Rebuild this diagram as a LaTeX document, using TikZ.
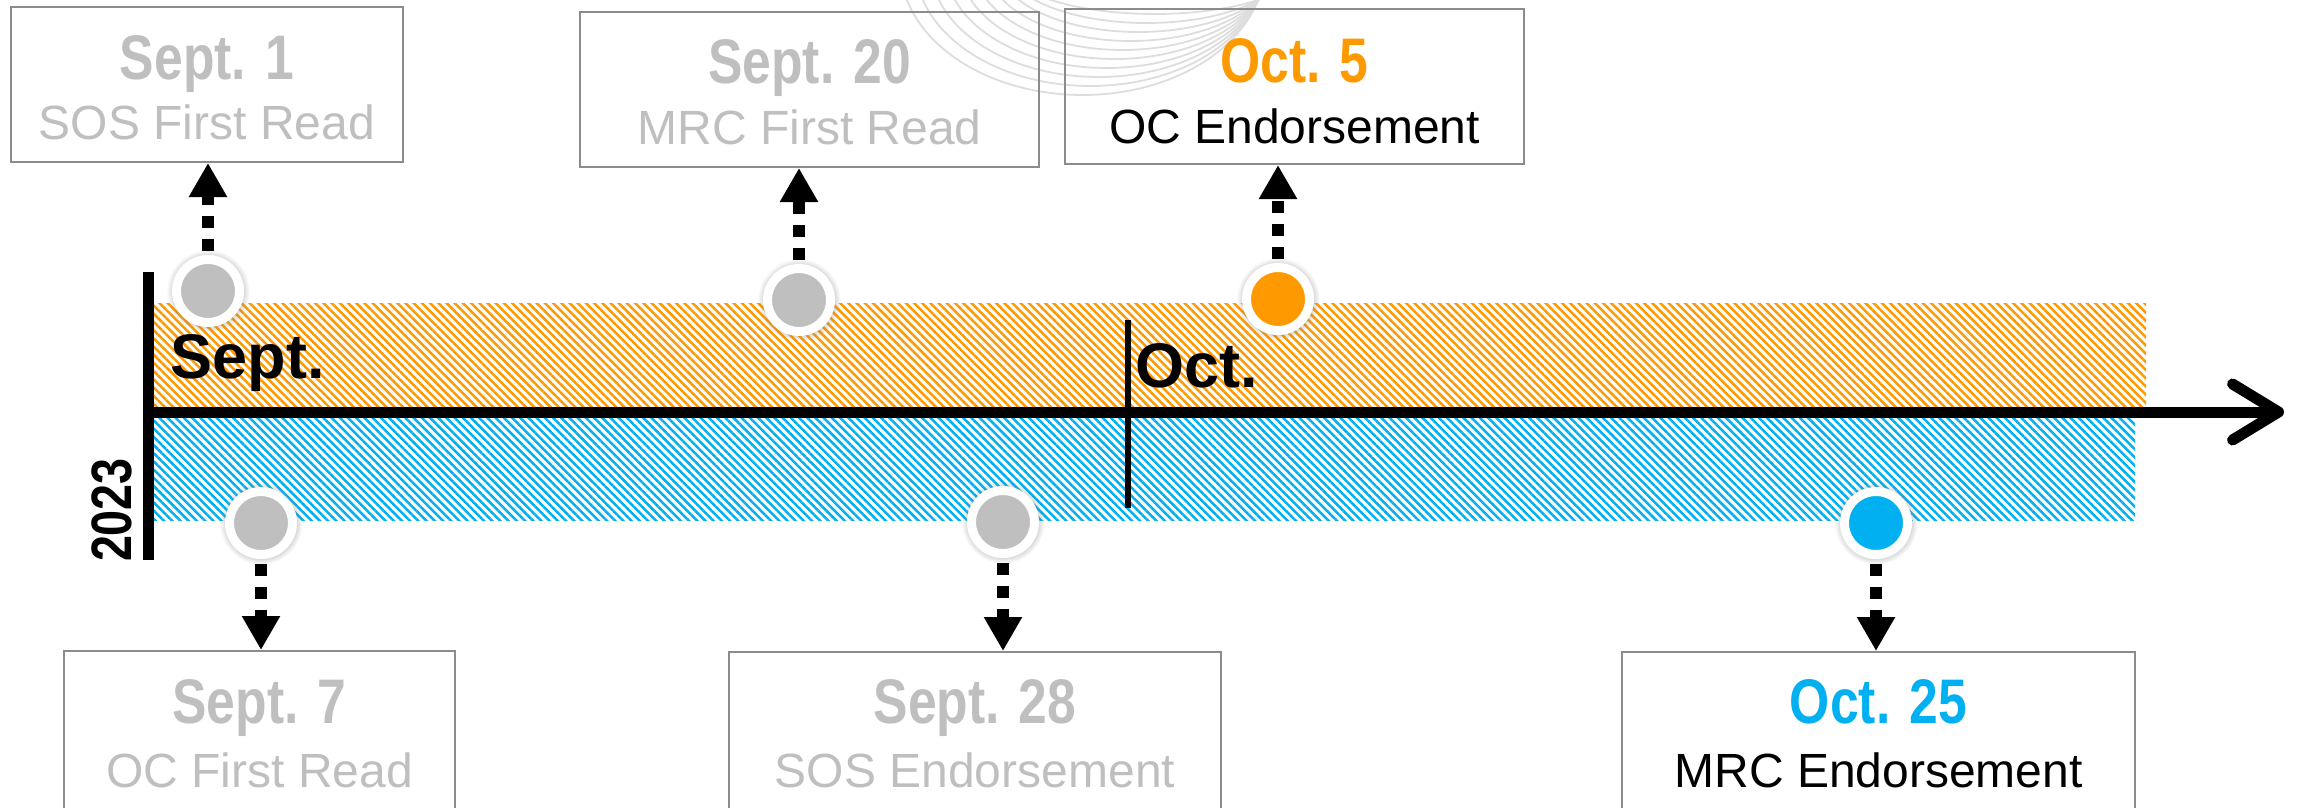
\documentclass[tikz,border=0pt]{standalone}
\usepackage{fontspec}
\setmainfont{Liberation Sans}
\newfontfamily\datefont{Liberation Sans}[FakeStretch=0.82]
\usetikzlibrary{arrows.meta,patterns.meta,shadows}
\definecolor{cOrange}{HTML}{FF9900}
\definecolor{cBlue}{HTML}{00B0F0}
\definecolor{cGray}{HTML}{BFBFBF}
\definecolor{cBorder}{HTML}{8C8C8C}
\definecolor{cArc}{HTML}{DDDDDD}
\begin{document}
\begin{tikzpicture}[x=1pt,y=-1pt,
  evbox/.style={draw=cBorder, line width=2pt, inner sep=0pt},
  datet/.style={anchor=base, inner sep=0pt, font=\datefont\bfseries\fontsize{63}{70}\selectfont},
  desct/.style={anchor=base, inner sep=0pt, font=\fontsize{48}{54}\selectfont},
  monthlbl/.style={anchor=base west, inner sep=0pt, font=\bfseries\fontsize{63}{70}\selectfont},
  dot/.style={circle, draw=white, line width=9pt, minimum size=63pt, inner sep=0pt, outer sep=9pt,
    circular drop shadow={shadow xshift=0pt, shadow yshift=0pt, shadow scale=1.32, opacity=0.3}},
  dasharrow/.style={line width=12pt, dash pattern=on 12pt off 11pt, -{Triangle[length=34pt,width=36pt]}},
  arcline/.style={draw=cArc, line width=1.8pt},
  hatch/.style={pattern={Lines[angle=-45,distance=5.8pt,line width=2.5pt]}}
]
\useasboundingbox (0,0) rectangle (2308,808);

% faint background arcs
\begin{scope}
\clip (0,0) rectangle (2308,808);
\foreach \i in {0,...,9}{
  \pgfmathsetmacro{\L}{907+16*\i}
  \pgfmathsetmacro{\D}{95-9*\i}
  \pgfmathsetmacro{\ry}{\D+35}
  \pgfmathsetmacro{\h}{(1258-\L)/2}
  \pgfmathsetmacro{\rx}{\h/sqrt(1-(35/\ry)^2)}
  \pgfmathsetmacro{\cx}{(\L+1258)/2}
  \draw[arcline] (\cx,-35) circle[x radius=\rx pt, y radius=\ry pt];
}
\end{scope}

% hatched bands
\fill[hatch, pattern color=cOrange] (154,303) rectangle (2146,412);
\fill[hatch, pattern color=cBlue] (154,412) rectangle (2135,520);

% axis
\coordinate (vT) at (148.5,272);
\coordinate (vB) at (148.5,560);
\coordinate (axL) at (143,412);
\coordinate (axR) at (2284,412);
\coordinate (oT) at (1128,320);
\coordinate (oB) at (1128,508);
\draw[line width=11pt] (vT) -- (vB);
\draw[line width=11pt, -{Straight Barb[length=46pt,width=56pt,round]}] (axL) -- (axR);
\draw[line width=6pt] (oT) -- (oB);

\node[monthlbl] (lsept) at (170.5,378) {Sept.};
\node[monthlbl] (loct) at (1135.5,387) {Oct.};
\node[rotate=90, inner sep=0pt, font=\datefont\bfseries\fontsize{57}{60}\selectfont] (yr) at (112,510) {2023};

% event dots
\node[dot, fill=cGray] (c1) at (208,291) {};
\node[dot, fill=cGray] (c2) at (799,300) {};
\node[dot, fill=cOrange] (c3) at (1278,299) {};
\node[dot, fill=cGray] (c4) at (261,523) {};
\node[dot, fill=cGray] (c5) at (1003,522) {};
\node[dot, fill=cBlue] (c6) at (1876,523) {};

% boxes
\node[evbox, minimum width=392pt, minimum height=155pt] (b1) at (207,84.5) {};
\node[evbox, minimum width=459pt, minimum height=155pt] (b2) at (809.5,89.5) {};
\node[evbox, minimum width=459pt, minimum height=155pt] (b3) at (1294.5,86.5) {};
\begin{scope}
\clip (0,0) rectangle (2308,808);
\node[evbox, minimum width=391pt, minimum height=170pt] (b4) at (259.5,736) {};
\node[evbox, minimum width=492pt, minimum height=170pt] (b5) at (975,737) {};
\node[evbox, minimum width=513pt, minimum height=170pt] (b6) at (1878.5,737) {};
\end{scope}

% texts
\node[datet, text=cGray] (t1d) at (207,79) {Sept. 1};
\node[desct, text=cGray] (t1t) at (207,139) {SOS First Read};
\node[datet, text=cGray] (t2d) at (809.5,84) {Sept. 20};
\node[desct, text=cGray] (t2t) at (809.5,144) {MRC First Read};
\node[datet, text=cOrange] (t3d) at (1294.5,82) {Oct. 5};
\node[desct, text=black] (t3t) at (1294.5,143) {OC Endorsement};
\node[datet, text=cGray] (t4d) at (259.5,723) {Sept. 7};
\node[desct, text=cGray] (t4t) at (259.5,787) {OC First Read};
\node[datet, text=cGray] (t5d) at (975,723) {Sept. 28};
\node[desct, text=cGray] (t5t) at (975,787) {SOS Endorsement};
\node[datet, text=cBlue] (t6d) at (1878.5,723) {Oct. 25};
\node[desct, text=black] (t6t) at (1878.5,787) {MRC Endorsement};

% connectors
\draw[dasharrow] (c1.north) -- (c1 |- b1.south);
\draw[dasharrow] (c2.north) -- (c2 |- b2.south);
\draw[dasharrow] (c3.north) -- (c3 |- b3.south);
\draw[dasharrow] (c4.south) -- (c4 |- b4.north);
\draw[dasharrow] (c5.south) -- (c5 |- b5.north);
\draw[dasharrow] (c6.south) -- (c6 |- b6.north);
\end{tikzpicture}
\end{document}
